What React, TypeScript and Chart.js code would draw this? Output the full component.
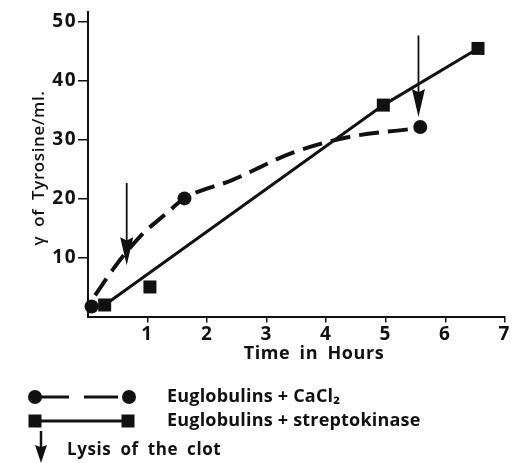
import React, { useEffect, useRef } from 'react';
import { Chart, registerables } from 'chart.js';

Chart.register(...registerables);

// ---- data ----
const caclPointX = [0.06, 1.62, 5.58];
const caclPointY = [1.7, 20.0, 32.1];
const caclCurveX = [0.12, 0.45, 0.87, 1.32, 1.62, 2.42, 3.43, 4.38, 5.38];
const caclCurveY = [3.6, 8.4, 13.5, 17.5, 20.0, 23.1, 27.7, 30.4, 31.7];
const streptoPointX = [0.28, 1.04, 4.96, 6.55];
const streptoPointY = [1.95, 5.0, 35.8, 45.4];
const streptoLineX = [0.28, 4.96, 6.55];
const streptoLineY = [1.95, 35.8, 45.4];
const lysisX = [0.65, 5.55];
const lysisTopY = [22.6, 47.6];
const lysisTipY = [8.7, 33.8];
const xTickValues = [1, 2, 3, 4, 5, 6, 7];
const yTickValues = [10, 20, 30, 40, 50];
const xTitle = 'Time in Hours';
const yTitle = 'γ of Tyrosine/ml.';
const legendCacl = 'Euglobulins + CaCl₂';
const legendStrepto = 'Euglobulins + streptokinase';
const legendLysis = 'Lysis of the clot';

const FONT = '"Open Sans", Lato, "DejaVu Sans", sans-serif';
const INK = '#111';

function toPts(xs: number[], ys: number[]) {
  return xs.map((x, i) => ({ x, y: ys[i] }));
}

function drawArrow(ctx: CanvasRenderingContext2D, x: number, top: number, tip: number, headLen: number, headW: number, shaftW: number) {
  ctx.save();
  ctx.strokeStyle = INK;
  ctx.fillStyle = INK;
  ctx.lineWidth = shaftW;
  ctx.beginPath();
  ctx.moveTo(x, top);
  ctx.lineTo(x, tip - headLen * 0.5);
  ctx.stroke();
  ctx.beginPath();
  ctx.moveTo(x, tip);
  ctx.lineTo(x - headW / 2, tip - headLen);
  ctx.lineTo(x, tip - headLen * 0.88);
  ctx.lineTo(x + headW / 2, tip - headLen);
  ctx.closePath();
  ctx.fill();
  ctx.restore();
}

const spacingPlugin = {
  id: 'spacing',
  beforeDraw(chart: any) {
    (chart.ctx as any).letterSpacing = '1.5px';
  },
  afterDatasetsDraw(chart: any) {
    (chart.ctx as any).letterSpacing = '0px';
  },
};

const decorPlugin = {
  id: 'decor',
  afterDraw(chart: any) {
    const ctx: any = chart.ctx;
    const xs = chart.scales.x;
    const ys = chart.scales.y;
    // lysis arrows
    lysisX.forEach((lx, i) => {
      drawArrow(ctx, xs.getPixelForValue(lx), ys.getPixelForValue(lysisTopY[i]), ys.getPixelForValue(lysisTipY[i]), 28, 13, 1.8);
    });
    ctx.save();
    ctx.fillStyle = INK;
    ctx.letterSpacing = '0.6px';
    ctx.wordSpacing = '4px';
    // x title
    ctx.font = `bold 18px ${FONT}`;
    ctx.textAlign = 'center';
    ctx.textBaseline = 'alphabetic';
    ctx.fillText(xTitle, 314, 359);
    // y title
    ctx.save();
    ctx.translate(44, 168);
    ctx.rotate(-Math.PI / 2);
    ctx.font = `600 17px ${FONT}`;
    ctx.fillText(yTitle, 0, 0);
    ctx.restore();

    // legend
    ctx.strokeStyle = INK;
    ctx.lineWidth = 3;
    // row 1: dashed with circles
    const r1 = 397;
    ctx.beginPath();
    ctx.moveTo(40, r1); ctx.lineTo(69, r1);
    ctx.moveTo(84, r1); ctx.lineTo(118, r1);
    ctx.stroke();
    [35, 129].forEach((cx) => {
      ctx.beginPath();
      ctx.arc(cx, r1, 7, 0, Math.PI * 2);
      ctx.fill();
    });
    // row 2: solid with squares
    const r2 = 421;
    ctx.beginPath();
    ctx.moveTo(35, r2); ctx.lineTo(128, r2);
    ctx.stroke();
    [35, 128].forEach((cx) => {
      ctx.fillRect(cx - 6.5, r2 - 6.5, 13, 13);
    });
    // row 3: arrow
    drawArrow(ctx, 41, 431, 463, 18, 12, 2.5);

    ctx.textAlign = 'left';
    ctx.font = `bold 18px ${FONT}`;
    ctx.wordSpacing = '0px';
    ctx.letterSpacing = '0.2px';
    ctx.fillText(legendCacl, 167, 402);
    ctx.fillText(legendStrepto, 167, 426);
    ctx.font = `bold 17px ${FONT}`;
    ctx.letterSpacing = '0.6px';
    ctx.wordSpacing = '4px';
    ctx.fillText(legendLysis, 67, 455);
    ctx.restore();
  },
};

export default function App() {
  const ref = useRef<HTMLCanvasElement | null>(null);
  useEffect(() => {
    if (!ref.current) return;
    const chart = new Chart(ref.current, {
      type: 'line',
      data: {
        datasets: [
          {
            label: 'CaCl2 curve',
            data: toPts(caclCurveX, caclCurveY),
            borderColor: INK,
            borderWidth: 4,
            borderDash: [20, 9],
            pointRadius: 0,
            tension: 0.4,
            cubicInterpolationMode: 'monotone',
            fill: false,
          },
          {
            label: 'Euglobulins + CaCl2',
            data: toPts(caclPointX, caclPointY),
            showLine: false,
            pointStyle: 'circle',
            pointRadius: 7,
            pointBackgroundColor: INK,
            pointBorderColor: INK,
            pointBorderWidth: 0,
          },
          {
            label: 'streptokinase line',
            data: toPts(streptoLineX, streptoLineY),
            borderColor: INK,
            borderWidth: 3,
            pointRadius: 0,
            tension: 0,
            fill: false,
          },
          {
            label: 'Euglobulins + streptokinase',
            data: toPts(streptoPointX, streptoPointY),
            showLine: false,
            pointStyle: 'rect',
            pointRadius: 9.2,
            pointBackgroundColor: INK,
            pointBorderColor: INK,
            pointBorderWidth: 0,
          },
        ] as any,
      },
      options: {
        animation: false,
        responsive: false,
        devicePixelRatio: 1,
        clip: false as any,
        layout: { padding: { top: 12, right: 7, left: 0, bottom: 0 } },
        plugins: { legend: { display: false }, tooltip: { enabled: false } },
        elements: { point: { hoverRadius: 0 } },
        scales: {
          x: {
            type: 'linear',
            min: 0,
            max: 7,
            afterBuildTicks: (s: any) => { s.ticks = xTickValues.map((v) => ({ value: v })); },
            afterFit: (s: any) => { s.height = 146.5; },
            grid: { drawOnChartArea: false, drawTicks: true, tickLength: 6, color: INK, lineWidth: 1.5 },
            border: { display: true, color: INK, width: 2 },
            ticks: { color: INK, font: { family: FONT, size: 19, weight: 'bold' }, padding: 1, maxRotation: 0, autoSkip: false },
          },
          y: {
            type: 'linear',
            min: 0,
            max: 51.5,
            afterBuildTicks: (s: any) => { s.ticks = yTickValues.map((v) => ({ value: v })); },
            afterFit: (s: any) => { s.width = 88; },
            grid: { drawOnChartArea: false, drawTicks: true, tickLength: 10, color: INK, lineWidth: 1.5 },
            border: { display: true, color: INK, width: 2 },
            ticks: { color: INK, font: { family: FONT, size: 19, weight: 'bold' }, padding: 1, autoSkip: false },
          },
        },
      } as any,
      plugins: [spacingPlugin, decorPlugin],
    });
    return () => chart.destroy();
  }, []);
  return (
    <div style={{ position: 'absolute', left: 0, top: 0, width: 514, height: 463, background: '#fff' }}>
      <canvas ref={ref} width={514} height={463} style={{ width: 514, height: 463 }} />
    </div>
  );
}
